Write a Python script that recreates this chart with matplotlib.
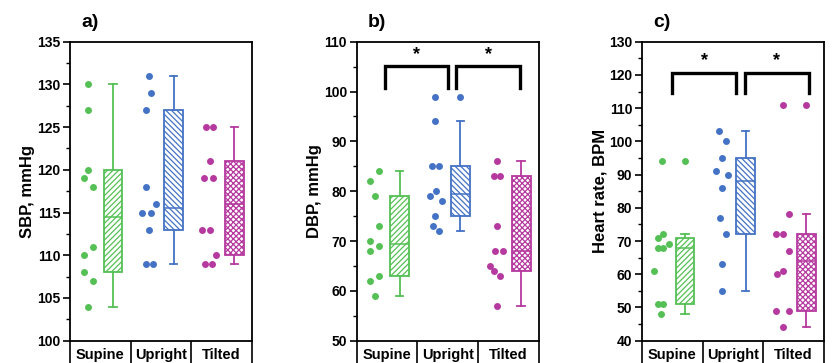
import numpy as np
import matplotlib.pyplot as plt
from matplotlib.ticker import MultipleLocator

plt.rcParams['font.family'] = ['Liberation Sans', 'DejaVu Sans']
plt.rcParams['font.weight'] = 'bold'
plt.rcParams['hatch.linewidth'] = 0.9

categories = ['Supine', 'Upright', 'Tilted']
colors = ['#55c055', '#4472c4', '#b5399f']
hatches = ['//////', '\\\\\\\\\\\\', 'xxxxxx']

# --- panel a: SBP ---
sbp_points = [
    [130, 127, 120, 119, 118, 111, 110, 108, 107, 104],
    [131, 129, 127, 118, 116, 115, 115, 113, 109, 109],
    [125, 125, 121, 119, 119, 113, 113, 110, 109, 109],
]
sbp_jitter = [
    [-0.20, -0.20, -0.20, -0.27, -0.12, -0.12, -0.27, -0.27, -0.12, -0.20],
    [-0.20, -0.17, -0.24, -0.24, -0.09, -0.32, -0.17, -0.20, -0.24, -0.14],
    [-0.26, -0.15, -0.20, -0.29, -0.15, -0.33, -0.20, -0.10, -0.28, -0.16],
]
# whislo, q1, med, q3, whishi, outliers
sbp_box = [
    (104, 108, 114.5, 120, 130, []),
    (109, 113, 115.5, 127, 131, []),
    (109, 110, 116, 121, 125, []),
]

# --- panel b: DBP ---
dbp_points = [
    [84, 82, 79, 73, 70, 69, 68, 63, 62, 59],
    [99, 94, 85, 85, 80, 79, 78, 75, 73, 72],
    [86, 83, 83, 73, 68, 68, 65, 64, 63, 57],
]
dbp_jitter = [
    [-0.13, -0.28, -0.20, -0.13, -0.28, -0.13, -0.28, -0.13, -0.28, -0.20],
    [-0.21, -0.21, -0.26, -0.14, -0.20, -0.29, -0.10, -0.21, -0.25, -0.15],
    [-0.19, -0.24, -0.13, -0.19, -0.22, -0.09, -0.30, -0.24, -0.14, -0.19],
]
dbp_box = [
    (59, 63, 69.5, 79, 84, []),
    (72, 75, 79.5, 85, 94, [99]),
    (57, 64, 68, 83, 86, []),
]

# --- panel c: heart rate ---
hr_points = [
    [94, 72, 71, 69, 68, 68, 61, 51, 51, 48],
    [103, 100, 95, 91, 90, 86, 77, 72, 63, 55],
    [111, 78, 72, 72, 67, 61, 60, 49, 49, 44],
]
hr_jitter = [
    [-0.17, -0.15, -0.23, -0.06, -0.23, -0.15, -0.30, -0.23, -0.15, -0.19],
    [-0.23, -0.12, -0.18, -0.28, -0.08, -0.18, -0.22, -0.12, -0.18, -0.18],
    [-0.17, -0.07, -0.29, -0.17, -0.07, -0.17, -0.28, -0.29, -0.08, -0.18],
]
hr_box = [
    (48, 51, 68, 71, 72, [94]),
    (55, 72, 88, 95, 103, []),
    (44, 49, 64, 72, 78, [111]),
]

# significance brackets: (x_left, x_right, y_top, y_leg_bottom, y_star)
dbp_brackets = [(0.96, 2.00, 105.1, 100.8, 107.4), (2.14, 3.19, 105.1, 100.8, 107.4)]
hr_brackets = [(1.00, 2.05, 120.7, 114.5, 124.2), (2.20, 3.25, 120.7, 114.5, 124.2)]

panels = [
    ('a)', 'SBP, mmHg', sbp_points, sbp_jitter, sbp_box, (100, 135), 5, []),
    ('b)', 'DBP, mmHg', dbp_points, dbp_jitter, dbp_box, (50, 110), 10, dbp_brackets),
    ('c)', 'Heart rate, BPM', hr_points, hr_jitter, hr_box, (40, 130), 10, hr_brackets),
]

fig = plt.figure(figsize=(8.32, 3.63), dpi=100)
lefts = [70, 356.7, 642]
box_off = 0.21

for (title, ylabel, pts, jit, box, ylim, major, brackets), left in zip(panels, lefts):
    ax = fig.add_axes([left / 832, 22.3 / 363, 182 / 832, 299 / 363])
    for i, (vals, jj) in enumerate(zip(pts, jit)):
        pos = i + 1
        ax.plot(pos + np.array(jj), vals, 'o', ms=5.0, color=colors[i],
                mec='none', zorder=3)
        lo, q1, med, q3, hi, fl = box[i]
        stats = [dict(whislo=lo, q1=q1, med=med, q3=q3, whishi=hi, fliers=fl)]
        ax.bxp(stats, positions=[pos + box_off], widths=0.31,
               patch_artist=True, showfliers=True, manage_ticks=False,
               boxprops=dict(facecolor='white', edgecolor=colors[i],
                             hatch=hatches[i], linewidth=1.3),
               medianprops=dict(color=colors[i], linewidth=1.1),
               whiskerprops=dict(color=colors[i], linewidth=1.3),
               capprops=dict(color=colors[i], linewidth=1.3),
               capwidths=0.12,
               flierprops=dict(marker='o', markersize=5.0,
                               markerfacecolor=colors[i],
                               markeredgecolor='none'))
    for xl, xr, yt, yb, ys in brackets:
        ax.plot([xl, xl, xr, xr], [yb, yt, yt, yb], color='black', lw=2.4,
                solid_joinstyle='miter', clip_on=False, zorder=4)
        ax.text((xl + xr) / 2, ys, '*', ha='center', va='center',
                fontsize=13, fontweight='bold')

    ax.set_xlim(0.5, 3.5)
    ax.set_ylim(*ylim)
    ax.yaxis.set_major_locator(MultipleLocator(major))
    ax.yaxis.set_minor_locator(MultipleLocator(major / 2))
    ax.tick_params(axis='y', which='major', length=5, width=1.2,
                   labelsize=10, pad=2)
    ax.tick_params(axis='y', which='minor', length=3, width=1.0)
    # category cells below the axes
    ax.set_xticks([0.5, 1.5, 2.5, 3.5])
    ax.set_xticklabels([])
    ax.set_xticks([1, 2, 3], minor=True)
    ax.set_xticklabels(categories, minor=True, fontsize=10.5, fontweight='bold')
    ax.tick_params(axis='x', which='major', length=26, width=1.2, direction='out')
    ax.tick_params(axis='x', which='minor', length=0, pad=5)
    for sp in ax.spines.values():
        sp.set_linewidth(1.3)
    ax.set_ylabel(ylabel, fontsize=12, fontweight='bold')
    ax.yaxis.set_label_coords(-0.19, 0.5)
    ax.text(0.06, 1.035, title, transform=ax.transAxes, ha='left',
            va='bottom', fontsize=14, fontweight='bold')

fig.savefig('out.png', dpi=100)
